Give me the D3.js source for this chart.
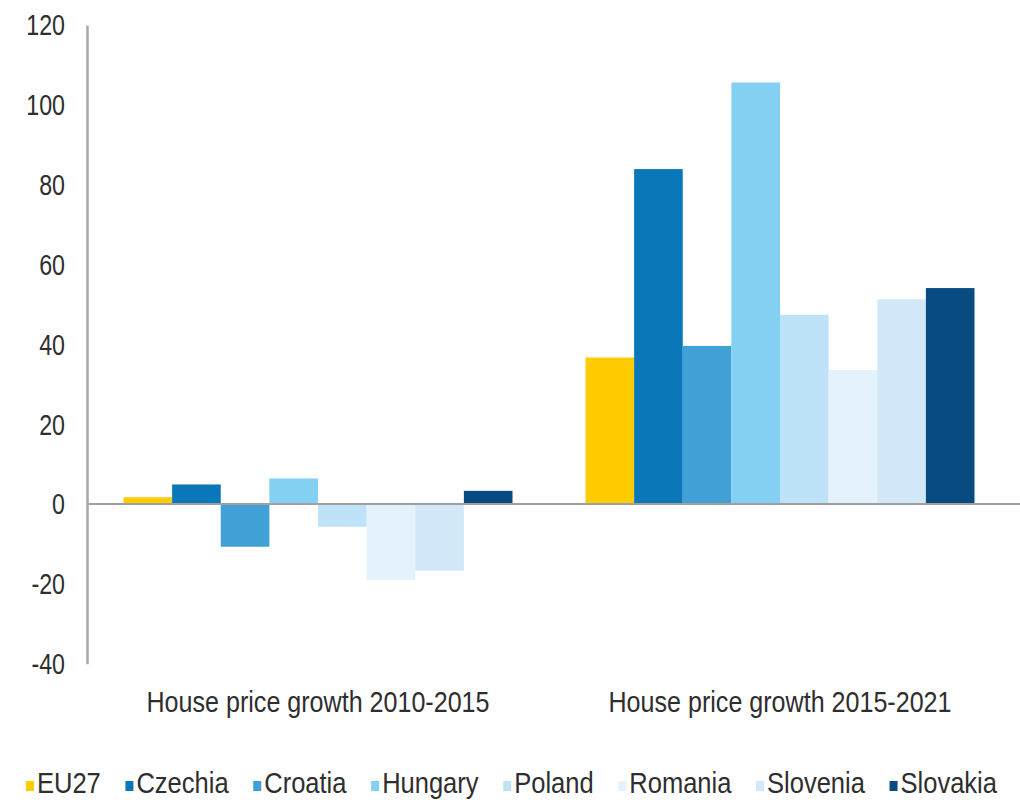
<!DOCTYPE html>
<html>
<head>
<meta charset="utf-8">
<script src="https://cdn.jsdelivr.net/npm/d3@7"></script>
<style>
  html, body { margin: 0; padding: 0; background: #ffffff; }
  svg { display: block; }
  text { font-family: "Liberation Sans", Arial, sans-serif; fill: #2e2e2e; }
</style>
</head>
<body>
<svg id="chart" width="1020" height="803"></svg>
<script>
// Periods on the category axis
const periods = ["House price growth 2010-2015", "House price growth 2015-2021"];

// Countries (one bar each per period)
const countries = ["EU27", "Czechia", "Croatia", "Hungary", "Poland", "Romania", "Slovenia", "Slovakia"];

// House price growth, % (one value per country, in the order above)
const growth2010_2015 = [1.7, 4.9, -10.7, 6.4, -5.7, -19.0, -16.7, 3.3];
const growth2015_2021 = [36.7, 83.9, 39.6, 105.6, 47.4, 33.6, 51.3, 54.1];

// Value axis ticks
const yTicks = [-40, -20, 0, 20, 40, 60, 80, 100, 120];

// Bar colours per country
const countryColors = ["#FFCC00", "#0A77B8", "#41A0D6", "#84D0F3", "#BEE2F8", "#E3F2FC", "#D2E8F8", "#084B80"];

const seriesByPeriod = [growth2010_2015, growth2015_2021];
const rows = periods.map((p, i) => ({
  period: p,
  values: countries.map((c, j) => ({ country: c, value: seriesByPeriod[i][j] }))
}));

const svg = d3.select("#chart");
const axisX = 87;
const plotRight = 1011;

const x0 = d3.scaleBand()
  .domain(periods)
  .range([axisX, plotRight])
  .paddingInner(0.158)
  .paddingOuter(0.079);

const x1 = d3.scaleBand()
  .domain(countries)
  .range([0, x0.bandwidth()])
  .padding(0);

const y = d3.scaleLinear()
  .domain([-40, 120])
  .range([663.7, 25]);

const color = d3.scaleOrdinal().domain(countries).range(countryColors);

// Bars
const groups = svg.append("g")
  .selectAll("g")
  .data(rows)
  .join("g")
  .attr("transform", d => `translate(${x0(d.period)},0)`);

groups.selectAll("rect")
  .data(d => d.values)
  .join("rect")
  .attr("x", d => x1(d.country))
  .attr("width", x1.bandwidth())
  .attr("y", d => y(Math.max(0, d.value)))
  .attr("height", d => Math.abs(y(d.value) - y(0)))
  .attr("fill", d => color(d.country));

// Zero baseline across the plot
svg.append("line")
  .attr("x1", axisX).attr("x2", 1020)
  .attr("y1", y(0)).attr("y2", y(0))
  .attr("stroke", "#a0a0a0")
  .attr("stroke-width", 2);

// Value axis: line plus labels (plain hyphen for negatives)
const yAxis = d3.axisLeft(y).tickValues(yTicks).tickSize(0).tickPadding(0).tickFormat(d => String(d));
const yAxisG = svg.append("g")
  .attr("transform", `translate(${axisX},0)`)
  .call(yAxis);
yAxisG.select(".domain")
  .attr("stroke", "#a8a8a8")
  .attr("stroke-width", 2.5);
yAxisG.selectAll(".tick text")
  .attr("x", 0).attr("dy", null)
  .attr("fill", "#2e2e2e")
  .style("font-size", "29px")
  .style("font-family", "'Liberation Sans', Arial, sans-serif")
  .attr("dominant-baseline", "central")
  .attr("transform", "translate(-22,0) scale(0.8,1)");

// Category labels under each group
svg.append("g")
  .selectAll("text")
  .data(periods)
  .join("text")
  .attr("text-anchor", "middle")
  .style("font-size", "29px")
  .attr("transform", d => `translate(${x0(d) + x0.bandwidth() / 2},712) scale(0.865,1)`)
  .text(d => d);

// Legend row along the bottom
const legendStart = 26, legendEnd = 997, markerW = 8, markerH = 10, markerGap = 3, legendScale = 0.88;
const legend = svg.append("g");
const items = legend.selectAll("g")
  .data(countries)
  .join("g");
items.append("rect")
  .attr("width", markerW).attr("height", markerH)
  .attr("y", 781)
  .attr("fill", d => color(d));
items.append("text")
  .style("font-size", "29px")
  .text(d => d);

const widths = [];
items.select("text").each(function () { widths.push(this.getComputedTextLength() * legendScale); });
const itemW = widths.map(w => markerW + markerGap + w);
const spacing = (legendEnd - legendStart - d3.sum(itemW)) / (countries.length - 1);
let cursor = legendStart;
items.each(function (d, i) {
  const g = d3.select(this);
  g.select("rect").attr("x", cursor);
  g.select("text").attr("transform", `translate(${cursor + markerW + markerGap},793) scale(${legendScale},1)`);
  cursor += itemW[i] + spacing;
});
</script>
</body>
</html>
